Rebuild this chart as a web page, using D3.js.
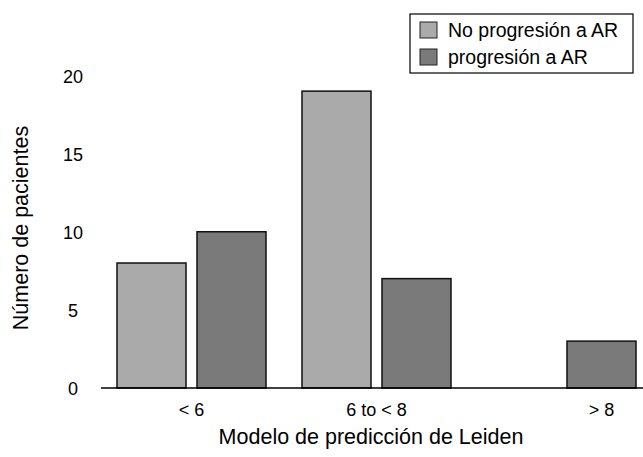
<!DOCTYPE html>
<html><head><meta charset="utf-8">
<script src="https://cdn.jsdelivr.net/npm/d3@7"></script>
<style>body{margin:0;background:#fff}svg{display:block;font-family:"Liberation Sans",Arial,Helvetica,sans-serif}</style>
</head><body><svg id="c" width="643" height="457"></svg>
<script>
const categories = ["< 6", "6 to < 8", "> 8"];
const seriesNames = ["No progresión a AR", "progresión a AR"];
const noProgresion = [8, 19, 0];
const progresion = [10, 7, 3];
const yTicks = [0, 5, 10, 15, 20];
const colors = ["#aaaaaa", "#7a7a7a"];

const svg = d3.select("#c");
const seriesVals = [noProgresion, progresion];
const y = d3.scaleLinear().domain([0, 20]).range([388, 75.5]);
const x0 = d3.scaleBand().domain(categories).range([117, 636]).paddingInner(36/185).paddingOuter(0);
const x1 = d3.scaleBand().domain(seriesNames).range([0, x0.bandwidth()]).paddingInner(11/80).paddingOuter(0);

// bars
categories.forEach((cat, i) => {
  seriesNames.forEach((s, j) => {
    const v = seriesVals[j][i];
    if (v <= 0) return;
    svg.append("rect")
      .attr("x", x0(cat) + x1(s))
      .attr("y", y(v))
      .attr("width", x1.bandwidth())
      .attr("height", y(0) - y(v))
      .attr("fill", colors[j])
      .attr("stroke", "#111")
      .attr("stroke-width", 1.5);
  });
});

// baseline
svg.append("line").attr("x1", 101).attr("x2", 643).attr("y1", y(0)).attr("y2", y(0))
  .attr("stroke", "#000").attr("stroke-width", 1.5);

// y tick labels
svg.selectAll("text.yt").data(yTicks).enter().append("text")
  .attr("x", 73).attr("y", d => y(d) + 1).attr("dy", "0.35em")
  .attr("text-anchor", "middle").attr("font-size", 18).text(d => d);

// x tick labels: centered on present bars of each group
categories.forEach((cat, i) => {
  const present = seriesNames.filter((s, j) => seriesVals[j][i] > 0);
  const cx = d3.mean(present, s => x0(cat) + x1(s) + x1.bandwidth() / 2);
  svg.append("text").attr("x", cx).attr("y", 416)
    .attr("text-anchor", "middle").attr("font-size", 18).text(cat);
});

// axis titles
svg.append("text").attr("x", 371).attr("y", 444).attr("text-anchor", "middle")
  .attr("font-size", 21.5).text("Modelo de predicción de Leiden");
svg.append("text").attr("transform", "translate(28,228) rotate(-90)").attr("text-anchor", "middle")
  .attr("font-size", 21.5).text("Número de pacientes");

// legend
const lg = svg.append("g");
lg.append("rect").attr("x", 410).attr("y", 14).attr("width", 223).attr("height", 59)
  .attr("fill", "#fff").attr("stroke", "#000").attr("stroke-width", 1.2);
seriesNames.forEach((s, j) => {
  lg.append("rect").attr("x", 420).attr("y", 22 + j * 27).attr("width", 17).attr("height", 16)
    .attr("fill", colors[j]).attr("stroke", "#222").attr("stroke-width", 1);
  lg.append("text").attr("x", 448).attr("y", 30 + j * 27).attr("dy", "0.35em")
    .attr("font-size", 19.5).text(s);
});
</script></body></html>
